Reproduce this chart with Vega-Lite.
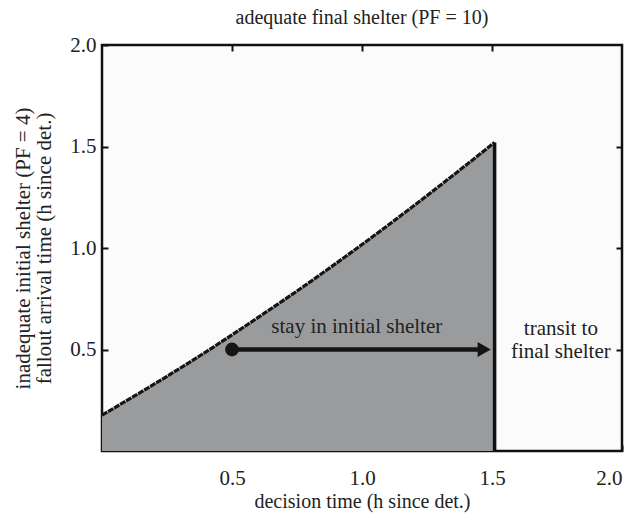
{
  "$schema": "https://vega.github.io/schema/vega-lite/v6.json",
  "autosize": "none",
  "width": 520,
  "height": 406,
  "padding": {"left": 102, "top": 45, "right": 16, "bottom": 62},
  "background": "white",
  "config": {
    "font": "Liberation Serif",
    "view": {"fill": "#fbfbfb", "stroke": "#111", "strokeWidth": 2.5},
    "axis": {
      "domain": false,
      "grid": false,
      "tickSize": -6,
      "tickWidth": 2,
      "tickColor": "#111",
      "labelFont": "Liberation Serif",
      "labelFontSize": 21,
      "labelColor": "#222",
      "titleFont": "Liberation Serif",
      "titleFontSize": 21,
      "titleFontWeight": "normal",
      "titleColor": "#222"
    },
    "title": {"font": "Liberation Serif", "fontSize": 20, "fontWeight": "normal", "color": "#222"}
  },
  "title": {"text": "adequate final shelter (PF = 10)", "anchor": "middle", "offset": 6},
  "datasets": {
    "curve": [
      {"t": 0, "a": 0.177},
      {"t": 0.125, "a": 0.271},
      {"t": 0.25, "a": 0.368},
      {"t": 0.375, "a": 0.468},
      {"t": 0.5, "a": 0.572},
      {"t": 0.625, "a": 0.679},
      {"t": 0.75, "a": 0.788},
      {"t": 0.875, "a": 0.901},
      {"t": 1.0, "a": 1.017},
      {"t": 1.125, "a": 1.136},
      {"t": 1.25, "a": 1.258},
      {"t": 1.375, "a": 1.383},
      {"t": 1.51, "a": 1.52}
    ],
    "vline": [{"t": 1.51, "a": 0, "a2": 1.52}],
    "arrow": [{"t": 0.5, "t2": 1.46, "a": 0.5}],
    "marks": [
      {"t": 0.5, "a": 0.5, "kind": "start"},
      {"t": 1.47, "a": 0.5, "kind": "end"}
    ],
    "labels": [
      {"t": 0.98, "a": 0.61, "label": "stay in initial shelter"},
      {"t": 1.765, "a": 0.6, "label": "transit to"},
      {"t": 1.765, "a": 0.49, "label": "final shelter"}
    ]
  },
  "resolve": {"axis": {"x": "independent", "y": "independent"}},
  "layer": [
    {
      "data": {"name": "curve"},
      "mark": {"type": "area", "color": "#9a9b9d", "opacity": 1},
      "encoding": {
        "x": {
          "field": "t", "type": "quantitative",
          "scale": {"domain": [0, 2], "nice": false, "zero": false},
          "axis": {"orient": "bottom", "values": [0.5, 1, 1.5, 2], "format": ".1f", "title": "decision time (h since det.)", "labelPadding": 22, "titlePadding": 3, "titleFontSize": 20}
        },
        "y": {
          "field": "a", "type": "quantitative",
          "scale": {"domain": [0, 2], "nice": false, "zero": false},
          "axis": {"orient": "left", "values": [0.5, 1, 1.5, 2], "format": ".1f", "title": ["inadequate initial shelter (PF = 4)", "fallout arrival time (h since det.)"], "labelPadding": 12, "titlePadding": 15, "titleLineHeight": 21}
        },
        "y2": {"datum": 0}
      }
    },
    {
      "data": {"name": "curve"},
      "mark": {"type": "line", "color": "#151515", "strokeWidth": 3.2, "strokeDash": [6, 1], "interpolate": "monotone"},
      "encoding": {
        "x": {"field": "t", "type": "quantitative", "axis": null},
        "y": {"field": "a", "type": "quantitative", "axis": null}
      }
    },
    {
      "data": {"name": "vline"},
      "mark": {"type": "rule", "color": "#111", "strokeWidth": 3.5},
      "encoding": {
        "x": {"field": "t", "type": "quantitative", "axis": {"orient": "top", "values": [0.5, 1, 1.5], "labels": false, "title": null}},
        "y": {"field": "a", "type": "quantitative", "axis": {"orient": "right", "values": [0.5, 1, 1.5], "labels": false, "title": null}},
        "y2": {"field": "a2"}
      }
    },
    {
      "data": {"name": "arrow"},
      "mark": {"type": "rule", "color": "#151515", "strokeWidth": 4.5},
      "encoding": {
        "x": {"field": "t", "type": "quantitative", "axis": null},
        "x2": {"field": "t2"},
        "y": {"field": "a", "type": "quantitative", "axis": null}
      }
    },
    {
      "data": {"name": "marks"},
      "mark": {"type": "point", "filled": true, "color": "#151515", "opacity": 1},
      "encoding": {
        "x": {"field": "t", "type": "quantitative", "axis": null},
        "y": {"field": "a", "type": "quantitative", "axis": null},
        "shape": {"field": "kind", "type": "nominal", "scale": {"domain": ["start", "end"], "range": ["circle", "triangle-right"]}, "legend": null},
        "size": {"field": "kind", "type": "nominal", "scale": {"domain": ["start", "end"], "range": [190, 230]}, "legend": null}
      }
    },
    {
      "data": {"name": "labels"},
      "mark": {"type": "text", "font": "Liberation Serif", "fontSize": 21, "color": "#222", "align": "center", "baseline": "middle"},
      "encoding": {
        "x": {"field": "t", "type": "quantitative", "axis": null},
        "y": {"field": "a", "type": "quantitative", "axis": null},
        "text": {"field": "label"}
      }
    }
  ]
}
